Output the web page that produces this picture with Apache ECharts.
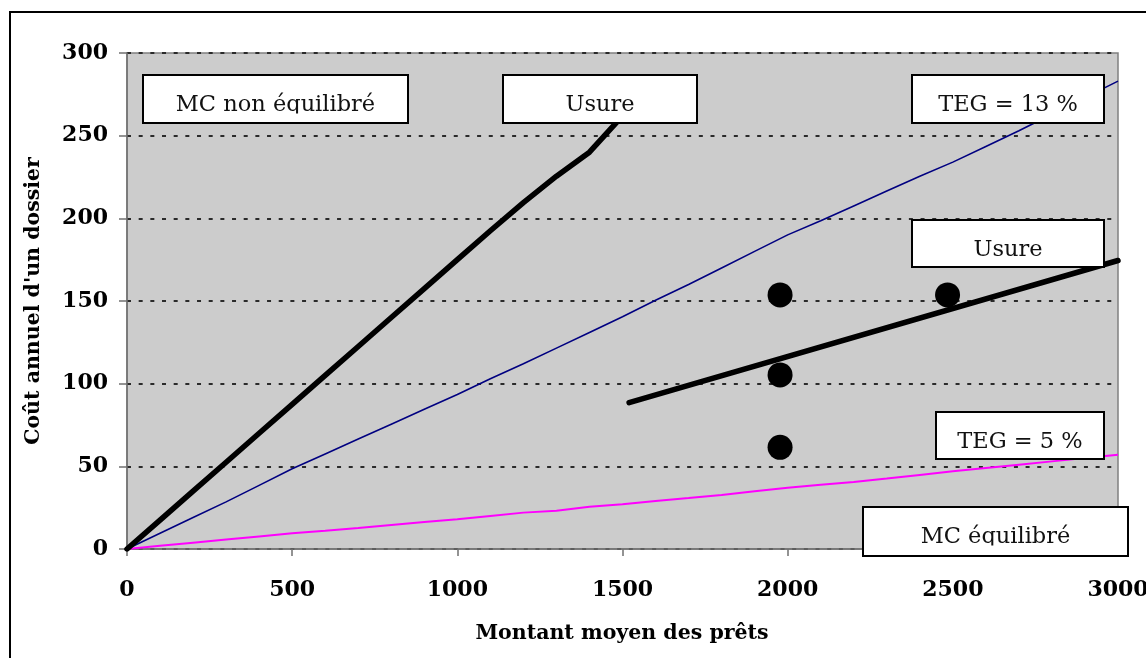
<!DOCTYPE html>
<html>
<head>
<meta charset="utf-8">
<script src="https://cdn.jsdelivr.net/npm/echarts@6/dist/echarts.min.js"></script>
<style>
html,body{margin:0;padding:0;background:#fff;}
#c{width:1146px;height:658px;}
</style>
</head>
<body>
<div id="c"></div>
<script>
// ---- data ----
var montants = [0,100,200,300,400,500,600,700,800,900,1000,1100,1200,1300,1400,1500,
  1600,1700,1800,1900,2000,2100,2200,2300,2400,2500,2600,2700,2800,2900,3000];
var usureNonEquilibre = [0,17.5,35,52.5,70,87.5,105,122.5,140,157.5,175,192.5,209.5,225.5,240,262];
var teg13 = [0,9.5,19,28.5,38.5,48.5,57.5,66.5,75.5,84.5,93.5,103,112,121.5,131,140.5,
  150.5,160,170,180,190,198.5,207.5,216.5,225.5,234,243.5,253,263,273,283];
var teg5 = [0,1.9,3.8,5.7,7.6,9.5,11,12.7,14.5,16.3,18,20,22,23.2,25.5,27,
  29,30.8,32.7,35,37,38.8,40.5,42.6,44.8,47,49,51,53,55,57];
var usureEquilibreX = [1520,3000];
var usureEquilibreY = [88.5,174.5];
var pointsX = [1977,1977,1977,2484];
var pointsY = [153.7,105.3,61.5,153.7];
var xTicks = [0,500,1000,1500,2000,2500,3000];
var yTicks = [0,50,100,150,200,250,300];
var boxLabels = ['MC non équilibré','Usure','TEG = 13 %','Usure','TEG = 5 %','MC équilibré'];

function pairs(xs, ys){ return ys.map(function(v,i){ return [xs[i], v]; }); }

var SERIF = '"DejaVu Serif", "Liberation Serif", serif';

// annotation boxes (pixel layout)
var boxGeom = [
  [143,75,265,48],
  [503,75,194,48],
  [912,75,192,48],
  [912,220,192,47],
  [936,412,168,47],
  [863,507,265,49]
];
var graphics = [];
graphics.push({type:'rect', z:1, silent:true, shape:{x:10,y:12,width:1200,height:700},
  style:{fill:'transparent', stroke:'#000', lineWidth:2}});
boxGeom.forEach(function(g,i){
  graphics.push({type:'rect', z:100, shape:{x:g[0],y:g[1],width:g[2],height:g[3]},
    style:{fill:'#fff', stroke:'#000', lineWidth:2}});
  graphics.push({type:'text', z:101, x:g[0]+g[2]/2, y:g[1]+30.5,
    style:{text:boxLabels[i], font:'22.5px '+SERIF, fill:'#111', align:'center', verticalAlign:'middle'}});
  graphics.push({type:'rect', z:102, shape:{x:g[0]+1,y:g[1]+38.5,width:g[2]-2,height:g[3]-39.5},
    style:{fill:'#fff', stroke:null}});
});
graphics.push({type:'text', z:50, x:34, y:301, rotation:Math.PI/2,
  style:{text:"Coût annuel d'un dossier", font:'bold 20.5px '+SERIF, fill:'#000', align:'center', verticalAlign:'middle'}});
graphics.push({type:'text', z:50, x:622, y:634,
  style:{text:'Montant moyen des prêts', font:'bold 20.5px '+SERIF, fill:'#000', align:'center', verticalAlign:'middle'}});

function plain(v){ return String(v); }

var chart = echarts.init(document.getElementById('c'));
chart.setOption({
  animation:false,
  backgroundColor:'#fff',
  grid:{left:127, right:28, top:53, bottom:109, show:true, backgroundColor:'#cccccc',
    borderColor:'#808080', borderWidth:1.5, containLabel:false, outerBoundsMode:'none'},
  xAxis:{type:'value', min:xTicks[0], max:xTicks[xTicks.length-1], interval:xTicks[1]-xTicks[0],
    axisLine:{show:true, onZero:false, lineStyle:{color:'#707070', width:1.5}},
    axisTick:{show:true, length:7, lineStyle:{color:'#707070', width:1.5}},
    axisLabel:{margin:30, color:'#000', fontFamily:SERIF, fontWeight:'bold', fontSize:22, formatter:plain},
    splitLine:{show:false}},
  yAxis:{type:'value', min:yTicks[0], max:yTicks[yTicks.length-1], interval:yTicks[1]-yTicks[0],
    axisLine:{show:true, lineStyle:{color:'#707070', width:1.5}},
    axisTick:{show:true, length:8, lineStyle:{color:'#707070', width:1.5}},
    axisLabel:{margin:19, color:'#000', fontFamily:SERIF, fontWeight:'bold', fontSize:22, formatter:plain},
    splitLine:{show:true, lineStyle:{type:[4,7.67], color:'#2a2a2a', width:2}}},
  series:[
    {type:'line', data:pairs(montants, teg13), showSymbol:false, symbol:'none',
      lineStyle:{color:'#000080', width:1.6}, z:3},
    {type:'line', data:pairs(montants, teg5), showSymbol:false, symbol:'none',
      lineStyle:{color:'#ff00ff', width:2}, z:3},
    {type:'line', data:pairs(montants, usureNonEquilibre), showSymbol:false, symbol:'none',
      lineStyle:{color:'#000', width:5.5, cap:'round', join:'round'}, z:4},
    {type:'line', data:pairs(usureEquilibreX, usureEquilibreY), showSymbol:false, symbol:'none',
      lineStyle:{color:'#000', width:5.5, cap:'round'}, z:4},
    {type:'scatter', data:pairs(pointsX, pointsY), symbol:'circle', symbolSize:25,
      itemStyle:{color:'#000', opacity:1}, z:5}
  ],
  graphic:graphics
});
</script>
</body>
</html>
